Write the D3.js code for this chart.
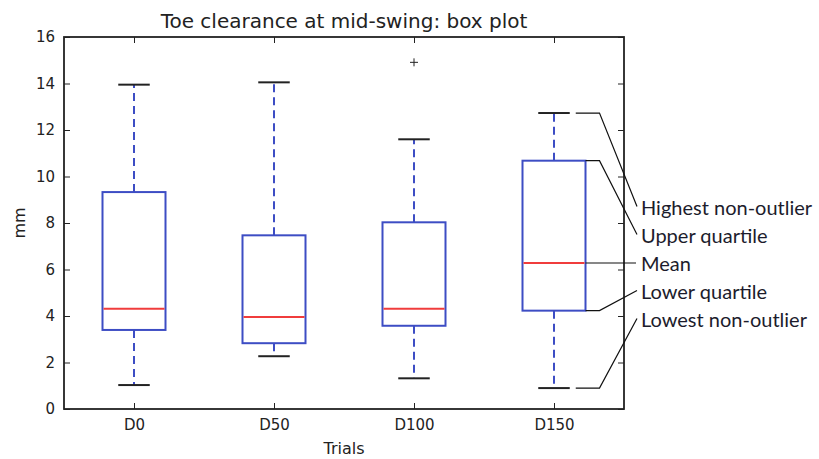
<!DOCTYPE html>
<html>
<head>
<meta charset="utf-8">
<script src="https://cdn.jsdelivr.net/npm/d3@7.9.0/dist/d3.min.js"></script>
<style>
  body { margin: 0; background: #fff; }
  svg { display: block; }
</style>
</head>
<body>
<svg id="chart" width="819" height="459"></svg>
<script>
// values (mm)
const trials = ['D0', 'D50', 'D100', 'D150'];
const lowWhisker = [1.03, 2.27, 1.32, 0.9];
const lowerQuartile = [3.4, 2.83, 3.58, 4.23];
const means = [4.31, 3.96, 4.31, 6.28];
const upperQuartile = [9.33, 7.47, 8.03, 10.68];
const highWhisker = [13.95, 14.05, 11.6, 12.73];
const outliers = [[], [], [14.91], []];
const yTicks = [0, 2, 4, 6, 8, 10, 12, 14, 16];
const annotationLabels = [
  'Highest non-outlier',
  'Upper quartile',
  'Mean',
  'Lower quartile',
  'Lowest non-outlier',
];

const boxes = trials.map((t, i) => ({
  trial: t,
  lo: lowWhisker[i],
  q1: lowerQuartile[i],
  mean: means[i],
  q3: upperQuartile[i],
  hi: highWhisker[i],
  fliers: outliers[i],
}));

const margin = { top: 37, right: 195, bottom: 50, left: 64 };
const width = 819;
const height = 459;
const innerW = width - margin.left - margin.right;
const innerH = height - margin.top - margin.bottom;

const blue = '#3d4dc4';
const red = '#f03c3c';
const ink = '#222';

const svg = d3.select('#chart');

const x = d3.scalePoint()
  .domain(trials)
  .range([margin.left, margin.left + innerW])
  .padding(0.5);

const y = d3.scaleLinear()
  .domain([0, 16])
  .range([margin.top + innerH, margin.top]);

const boxW = x.step() * 0.45;
const capW = boxW / 2;

// title + axis labels
svg.append('text')
  .attr('x', margin.left + innerW / 2)
  .attr('y', 28)
  .attr('text-anchor', 'middle')
  .style('font', '20px "DejaVu Sans"')
  .style('fill', ink)
  .text('Toe clearance at mid-swing: box plot');

svg.append('text')
  .attr('x', margin.left + innerW / 2)
  .attr('y', 454)
  .attr('text-anchor', 'middle')
  .style('font', '16px "DejaVu Sans"')
  .style('fill', ink)
  .text('Trials');

svg.append('text')
  .attr('transform', `translate(25,${margin.top + innerH / 2}) rotate(-90)`)
  .attr('text-anchor', 'middle')
  .style('font', '16px "DejaVu Sans"')
  .style('fill', ink)
  .text('mm');

// axes, ticks inside on all four sides (classic matplotlib)
const tickLen = 6;
function styleAxis(g) {
  g.select('.domain').remove();
  g.selectAll('line').attr('stroke', ink).attr('stroke-width', 1);
  g.selectAll('text').style('font', '15px "DejaVu Sans"').style('fill', ink);
}

svg.append('g')
  .attr('transform', `translate(${margin.left},0)`)
  .call(d3.axisLeft(y).tickValues(yTicks).tickSizeInner(-tickLen).tickSizeOuter(0).tickPadding(9))
  .call(styleAxis);

svg.append('g')
  .attr('transform', `translate(${margin.left + innerW},0)`)
  .call(d3.axisRight(y).tickValues(yTicks).tickSizeInner(-tickLen).tickSizeOuter(0).tickFormat(''))
  .call(styleAxis);

svg.append('g')
  .attr('transform', `translate(0,${margin.top + innerH})`)
  .call(d3.axisBottom(x).tickSizeInner(-tickLen).tickSizeOuter(0).tickPadding(10))
  .call(styleAxis);

svg.append('g')
  .attr('transform', `translate(0,${margin.top})`)
  .call(d3.axisTop(x).tickSizeInner(-tickLen).tickSizeOuter(0).tickFormat(''))
  .call(styleAxis);

svg.append('rect')
  .attr('x', margin.left)
  .attr('y', margin.top)
  .attr('width', innerW)
  .attr('height', innerH)
  .attr('fill', 'none')
  .attr('stroke', ink)
  .attr('stroke-width', 1.8);

// boxes
const g = svg.append('g');
const box = g.selectAll('g.box')
  .data(boxes)
  .join('g')
  .attr('class', 'box');

box.append('line') // upper whisker
  .attr('x1', (d) => x(d.trial)).attr('x2', (d) => x(d.trial))
  .attr('y1', (d) => y(d.q3)).attr('y2', (d) => y(d.hi))
  .attr('stroke', blue).attr('stroke-width', 2)
  .attr('stroke-dasharray', '8,5');

box.append('line') // lower whisker
  .attr('x1', (d) => x(d.trial)).attr('x2', (d) => x(d.trial))
  .attr('y1', (d) => y(d.q1)).attr('y2', (d) => y(d.lo))
  .attr('stroke', blue).attr('stroke-width', 2)
  .attr('stroke-dasharray', '8,5');

box.append('rect')
  .attr('x', (d) => x(d.trial) - boxW / 2)
  .attr('width', boxW)
  .attr('y', (d) => y(d.q3))
  .attr('height', (d) => y(d.q1) - y(d.q3))
  .attr('fill', 'none')
  .attr('stroke', blue)
  .attr('stroke-width', 2);

box.append('line') // mean
  .attr('x1', (d) => x(d.trial) - boxW / 2 + 1).attr('x2', (d) => x(d.trial) + boxW / 2 - 1)
  .attr('y1', (d) => y(d.mean)).attr('y2', (d) => y(d.mean))
  .attr('stroke', red).attr('stroke-width', 2);

box.selectAll('line.cap')
  .data((d) => [d.hi, d.lo].map((v) => ({ trial: d.trial, v })))
  .join('line')
  .attr('class', 'cap')
  .attr('x1', (d) => x(d.trial) - capW / 2).attr('x2', (d) => x(d.trial) + capW / 2)
  .attr('y1', (d) => y(d.v)).attr('y2', (d) => y(d.v))
  .attr('stroke', ink).attr('stroke-width', 2);

box.selectAll('path.flier')
  .data((d) => d.fliers.map((v) => ({ trial: d.trial, v })))
  .join('path')
  .attr('class', 'flier')
  .attr('d', (d) => {
    const cx = x(d.trial), cy = y(d.v);
    return `M${cx - 4},${cy}H${cx + 4}M${cx},${cy - 4}V${cy + 4}`;
  })
  .attr('stroke', ink).attr('stroke-width', 1);

// annotation of the last box
const last = boxes[boxes.length - 1];
const cx = x(last.trial);
const boxRight = cx + boxW / 2;
const capRight = cx + capW / 2;
const elbowX = boxRight + 14;
const labelX = 641;
const rowH = 28;
const rowY = (i) => y(last.mean) + 1.5 + (i - 2) * rowH;

const annotations = [
  { from: capRight + 6, v: last.hi },
  { from: boxRight, v: last.q3 },
  { from: boxRight, v: last.mean },
  { from: boxRight, v: last.q1 },
  { from: capRight + 6, v: last.lo },
];

svg.append('g')
  .selectAll('path')
  .data(annotations)
  .join('path')
  .attr('d', (d, i) => {
    const yy = y(d.v);
    if (i === 2) return `M${d.from},${yy}H${labelX - 5}`;
    return `M${d.from},${yy}H${elbowX}L${labelX - 4},${rowY(i) - 2}`;
  })
  .attr('fill', 'none')
  .attr('stroke', '#111')
  .attr('stroke-width', 1.2);

svg.append('g')
  .selectAll('text')
  .data(annotationLabels)
  .join('text')
  .attr('x', labelX)
  .attr('y', (d, i) => rowY(i))
  .attr('dy', '0.35em')
  .style('font', '20px Lato')
  .style('fill', '#1c1c2c')
  .text((d) => d);
</script>
</body>
</html>
